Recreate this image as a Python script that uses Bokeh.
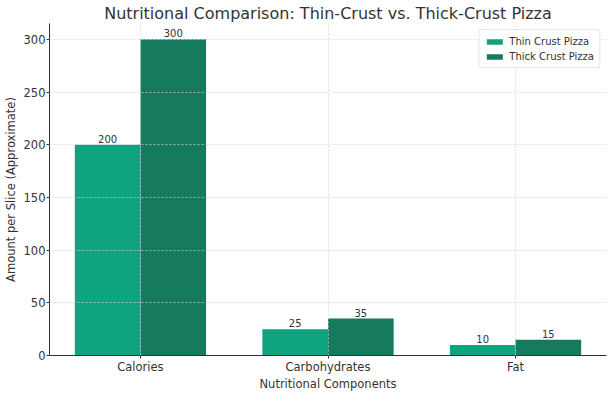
from bokeh.plotting import figure
from bokeh.models import ColumnDataSource, Range1d, FixedTicker, Legend, LegendItem
from bokeh.core.properties import value
from bokeh.embed import file_html
from bokeh.resources import INLINE

categories = ["Calories", "Carbohydrates", "Fat"]
thin_crust = [200, 25, 10]
thick_crust = [300, 35, 15]
series_names = ["Thin Crust Pizza", "Thick Crust Pizza"]
y_ticks = [0, 50, 100, 150, 200, 250, 300]

THIN_COLOR = "#10a37f"
THICK_COLOR = "#167a5f"
FONT = "DejaVu Sans"
bar_w = 0.35

idx = list(range(len(categories)))
src_thin = ColumnDataSource(dict(x=[i - bar_w / 2 for i in idx], top=thin_crust,
                                 lab=[str(v) for v in thin_crust]))
src_thick = ColumnDataSource(dict(x=[i + bar_w / 2 for i in idx], top=thick_crust,
                                  lab=[str(v) for v in thick_crust]))

p = figure(width=612, height=393, output_backend="svg", toolbar_location=None,
           x_range=Range1d(-0.485, 2.485), y_range=Range1d(0, 315),
           min_border_left=10, min_border_right=6, min_border_top=0, min_border_bottom=0)
p.outline_line_color = None
p.background_fill_color = "white"
p.border_fill_color = "white"

p.title.text = "Nutritional Comparison: Thin-Crust vs. Thick-Crust Pizza"
p.title.align = "center"
p.title.text_font = FONT
p.title.text_font_size = "16px"
p.title.text_font_style = "normal"
p.title.text_color = "#333333"
p.title.standoff = 2

r1 = p.vbar(x="x", top="top", width=bar_w, source=src_thin, fill_color=THIN_COLOR,
            line_color=None)
r2 = p.vbar(x="x", top="top", width=bar_w, source=src_thick, fill_color=THICK_COLOR,
            line_color=None)

for src in (src_thin, src_thick):
    p.text(x="x", y="top", text="lab", source=src, text_align="center",
           text_baseline="bottom", text_font=value(FONT), text_font_size="10px",
           text_color="#333333", y_offset=-2)

for ax in (p.xaxis, p.yaxis):
    ax.axis_line_color = "#333333"
    ax.major_tick_line_color = "#333333"
    ax.major_tick_out = 3
    ax.major_tick_in = 0
    ax.minor_tick_line_color = None
    ax.major_label_text_font = FONT
    ax.major_label_text_font_size = "11.5px"
    ax.major_label_text_color = "#333333"
    ax.axis_label_text_font = FONT
    ax.axis_label_text_font_size = "11.5px"
    ax.axis_label_text_font_style = "normal"
    ax.axis_label_text_color = "#333333"
    ax.major_label_standoff = 1
    ax.axis_label_standoff = 0

p.xaxis.ticker = FixedTicker(ticks=idx)
p.xaxis.major_label_overrides = {i: c for i, c in enumerate(categories)}
p.xaxis.axis_label = "Nutritional Components"
p.yaxis.ticker = FixedTicker(ticks=y_ticks)
p.yaxis.axis_label = "Amount per Slice (Approximate)"
p.yaxis.axis_label_standoff = 3

for g in (p.xgrid, p.ygrid):
    g.grid_line_color = "#d0d0d0"
    g.grid_line_dash = "2 2"
    g.grid_line_width = 0.7
    g.level = "overlay"
p.xgrid.ticker = FixedTicker(ticks=idx)
p.ygrid.ticker = FixedTicker(ticks=y_ticks)

legend = Legend(items=[LegendItem(label=series_names[0], renderers=[r1]),
                       LegendItem(label=series_names[1], renderers=[r2])],
                location="top_right")
legend.label_text_font = FONT
legend.label_text_font_size = "10px"
legend.label_text_color = "#333333"
legend.glyph_width = 20
legend.glyph_height = 7
legend.label_height = 12
legend.spacing = 3
legend.padding = 5
legend.margin = 6
legend.border_line_color = "#cccccc"
legend.border_line_width = 1
legend.border_radius = 3
legend.background_fill_alpha = 0.9
p.add_layout(legend)

open("out.html", "w").write(file_html(p, INLINE))
